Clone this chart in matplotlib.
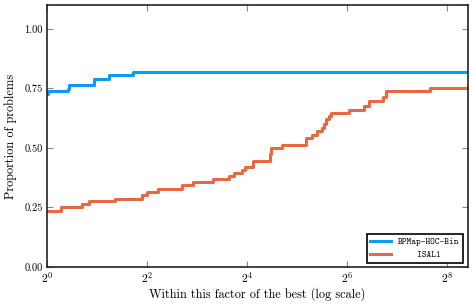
import numpy as np
import matplotlib
matplotlib.use("Agg")
import matplotlib.pyplot as plt

# performance profile data: (factor, proportion) step points
bpmap_x = [1.0, 1.02, 1.34, 1.36, 1.91, 2.35, 3.28]
bpmap_y = [0.727, 0.739, 0.749, 0.765, 0.789, 0.804, 0.818]

isal_x = [1.0, 1.21, 1.62, 1.80, 2.58, 3.73, 4.0, 4.66, 6.55, 7.63, 9.99,
          12.47, 13.3, 14.9, 15.6, 17.3, 22.0, 22.2, 26.0, 36.4, 39.4, 42.2,
          45.3, 46.7, 48.1, 50.1, 51.3, 66.3, 81.4, 86.4, 105.4, 110.4, 203.0]
isal_y = [0.237, 0.251, 0.265, 0.276, 0.287, 0.303, 0.314, 0.328, 0.343,
          0.356, 0.368, 0.382, 0.396, 0.408, 0.421, 0.447, 0.475, 0.499,
          0.514, 0.54, 0.555, 0.569, 0.583, 0.60, 0.62, 0.635, 0.648, 0.66,
          0.676, 0.695, 0.713, 0.737, 0.751]

labels = ["BPMap-HOC-Bin", "    ISAL1"]
colors = ["#0a9cf5", "#e8693f"]
xmax = 2 ** 8.42

plt.rcParams["font.family"] = "cmr10"
plt.rcParams["mathtext.fontset"] = "cm"
plt.rcParams["axes.formatter.use_mathtext"] = True

fig = plt.figure(figsize=(4.74, 3.08), dpi=100)
ax = fig.add_axes([0.099, 0.133, 0.888, 0.851])

for xs, ys, lab, c in [(bpmap_x, bpmap_y, labels[0], colors[0]),
                       (isal_x, isal_y, labels[1], colors[1])]:
    ax.plot(xs + [xmax], ys + [ys[-1]], drawstyle="steps-post", color=c,
            lw=2.2, label=lab)

ax.set_xscale("log", base=2)
ax.set_xlim(1, xmax)
ax.set_ylim(0, 1.1)
xt = [2 ** k for k in range(0, 9, 2)]
ax.set_xticks(xt)
ax.set_xticklabels([r"$2^{%d}$" % k for k in range(0, 9, 2)], fontsize=8.5)
ax.xaxis.set_minor_locator(matplotlib.ticker.NullLocator())
yt = [0, 0.25, 0.5, 0.75, 1.0]
ax.set_yticks(yt)
ax.set_yticklabels(["%.2f" % v for v in yt], fontsize=7.5)
ax.tick_params(direction="in", top=True, right=True, length=4,
               color="#888888", width=0.8)
ax.tick_params(axis="x", pad=2)
ax.tick_params(axis="y", pad=3)
for s in ax.spines.values():
    s.set_linewidth(1.2)
    s.set_color("#222222")

ax.set_xlabel("Within this factor of the best (log scale)", fontsize=8.8,
              labelpad=2)
ax.set_ylabel("Proportion of problems", fontsize=8.9, labelpad=5)

leg = ax.legend(loc="lower right", prop={"family": "cmtt10", "size": 6.5},
                fancybox=False, edgecolor="black", framealpha=1,
                handlelength=2.3, borderaxespad=0.5)
leg.get_frame().set_linewidth(1.2)

fig.savefig("out.png", dpi=100)
